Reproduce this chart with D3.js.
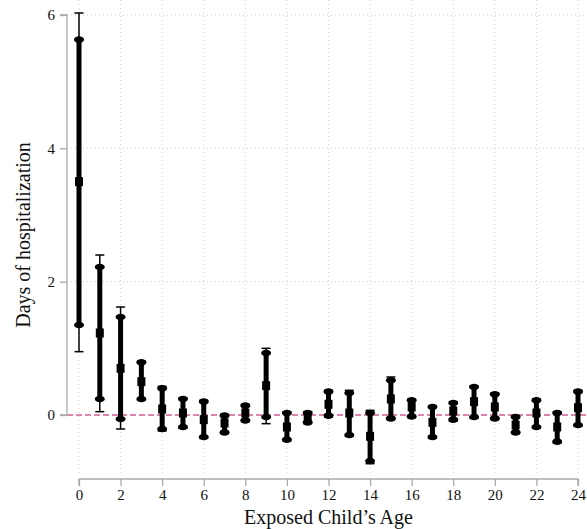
<!DOCTYPE html>
<html><head><meta charset="utf-8">
<script src="https://cdn.jsdelivr.net/npm/d3@7"></script>
<style>body{margin:0;background:#fff}</style>
</head><body>
<svg id="c" width="587" height="529"></svg>
<script>
const ages = d3.range(0,25);
const est   = [3.50,1.23,0.70,0.50,0.09,0.03,-0.07,-0.12,0.03,0.44,-0.18,-0.04,0.16,0.03,-0.32,0.24,0.12,-0.11,0.06,0.20,0.12,-0.15,0.03,-0.18,0.11];
const hi90  = [5.63,2.22,1.47,0.79,0.40,0.24,0.20,-0.01,0.14,0.93,0.03,0.03,0.35,0.33,0.03,0.52,0.22,0.12,0.18,0.42,0.31,-0.03,0.22,0.03,0.35];
const lo90  = [1.35,0.24,-0.06,0.24,-0.21,-0.18,-0.33,-0.26,-0.08,-0.03,-0.37,-0.11,-0.01,-0.30,-0.69,-0.05,-0.02,-0.33,-0.07,-0.03,-0.05,-0.26,-0.18,-0.40,-0.15];
const hi95  = [6.03,2.40,1.62,0.81,0.43,0.26,0.22,0.01,0.16,1.00,0.05,0.05,0.37,0.37,0.07,0.57,0.24,0.14,0.20,0.44,0.33,-0.01,0.24,0.05,0.37];
const lo95  = [0.95,0.05,-0.21,0.22,-0.24,-0.20,-0.35,-0.28,-0.10,-0.13,-0.39,-0.13,-0.03,-0.32,-0.73,-0.07,-0.04,-0.35,-0.09,-0.05,-0.07,-0.28,-0.20,-0.42,-0.17];
const xTicks = d3.range(0,25,2);
const yTicks = [0,2,4,6];

const svg = d3.select("#c");
const x = d3.scaleLinear().domain([0,24]).range([79,578]);
const y = d3.scaleLinear().domain([0,6]).range([415,15]);
const font = "'Liberation Serif','Times New Roman',serif";

// gridlines
svg.append("g").selectAll("line").data(xTicks).join("line")
  .attr("x1",d=>x(d)).attr("x2",d=>x(d)).attr("y1",0).attr("y2",474)
  .attr("stroke","#d0d0d0").attr("stroke-width",1).attr("stroke-dasharray","1,3");
svg.append("g").selectAll("line").data(yTicks.filter(d=>d!==0)).join("line")
  .attr("x1",67).attr("x2",587).attr("y1",d=>y(d)).attr("y2",d=>y(d))
  .attr("stroke","#d0d0d0").attr("stroke-width",1).attr("stroke-dasharray","1,3");
// zero reference
svg.append("line").attr("x1",67).attr("x2",587).attr("y1",y(0)).attr("y2",y(0))
  .attr("stroke","#cf5c93").attr("stroke-width",1.4).attr("stroke-dasharray","6,3");

// axes
const yAxis = svg.append("g").attr("transform","translate(67,0)")
  .call(d3.axisLeft(y).tickValues(yTicks).tickSize(7).tickPadding(5).tickFormat(d3.format("d")));
const xAxis = svg.append("g").attr("transform","translate(0,479)")
  .call(d3.axisBottom(x).tickValues(xTicks).tickSize(7).tickPadding(3).tickFormat(d3.format("d")));
[xAxis,yAxis].forEach(a=>{
  a.select(".domain").attr("stroke","#aaaaaa").attr("stroke-width",1.3);
  a.selectAll(".tick line").attr("stroke","#aaaaaa").attr("stroke-width",1.3);
  a.selectAll("text").attr("font-family",font).attr("font-size",15).attr("fill","#111");
});
xAxis.select(".domain").attr("d",`M${x(0)},7V0H${x(24)}V7`);
yAxis.select(".domain").attr("d",`M-7,${y(6)}H0V${y(0)}H-7`);

// titles
svg.append("text").attr("x",x(12)).attr("y",524).attr("text-anchor","middle")
  .attr("font-family",font).attr("font-size",20).attr("fill","#111").text("Exposed Child’s Age");
svg.append("text").attr("transform","translate(30,235) rotate(-90)").attr("text-anchor","middle")
  .attr("font-family",font).attr("font-size",20).attr("fill","#111").text("Days of hospitalization");

// marks
const g = svg.append("g");
const data = ages.map((a,i)=>({a,e:est[i],h9:hi90[i],l9:lo90[i],h5:hi95[i],l5:lo95[i]}));
// thin 95% CI
g.selectAll(".ci95").data(data).join("line")
  .attr("x1",d=>x(d.a)).attr("x2",d=>x(d.a)).attr("y1",d=>y(d.h5)).attr("y2",d=>y(d.l5))
  .attr("stroke","#000").attr("stroke-width",1.5);
["h5","l5"].forEach(k=>{
  g.selectAll(".cap"+k).data(data).join("line")
    .attr("x1",d=>x(d.a)-4.5).attr("x2",d=>x(d.a)+4.5).attr("y1",d=>y(d[k])).attr("y2",d=>y(d[k]))
    .attr("stroke","#000").attr("stroke-width",1.5);
});
// thick 90% CI
g.selectAll(".ci90").data(data).join("line")
  .attr("x1",d=>x(d.a)).attr("x2",d=>x(d.a)).attr("y1",d=>y(d.h9)).attr("y2",d=>y(d.l9))
  .attr("stroke","#000").attr("stroke-width",5);
["h9","l9"].forEach(k=>{
  g.selectAll(".end"+k).data(data).join("ellipse")
    .attr("cx",d=>x(d.a)).attr("cy",d=>y(d[k])).attr("rx",5).attr("ry",3.3).attr("fill","#000");
});
// point estimates
g.selectAll(".pt").data(data).join("rect")
  .attr("x",d=>x(d.a)-4).attr("y",d=>y(d.e)-4.5).attr("width",8).attr("height",9).attr("fill","#000");
</script>
</body></html>
